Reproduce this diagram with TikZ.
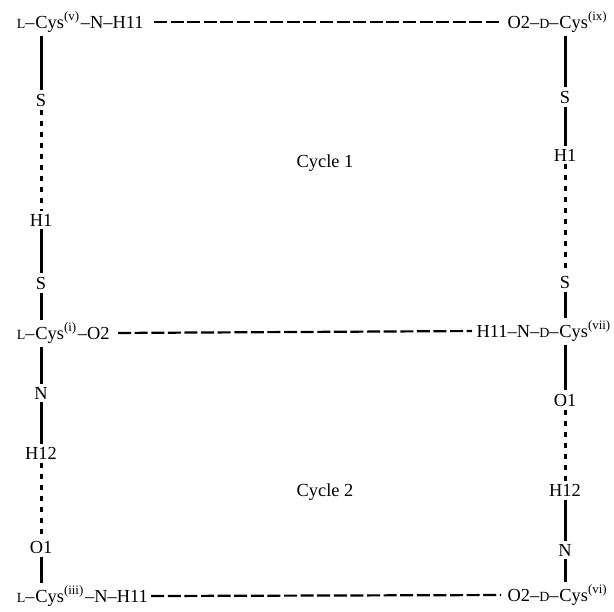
\documentclass[tikz,border=0pt]{standalone}
\usepackage{fontspec}
\setmainfont{Liberation Serif}
\usetikzlibrary{positioning}
\newcommand{\smcap}[1]{{\fontsize{7}{8}\selectfont #1}}
\tikzset{
    atom/.style={inner sep=1.5pt,font=\fontsize{9.2}{10}\selectfont},
    res/.style={inner sep=0pt,font=\fontsize{9.2}{10}\selectfont},
    bond/.style={draw,line width=1.5pt},
    hbond/.style={draw,line width=1.5pt,dash pattern=on 2.5pt off 3pt},
    contact/.style={draw,line width=1.1pt,dash pattern=on 6.5pt off 1.8pt}
}

\begin{document}
\begin{tikzpicture}[x=0.5pt,y=-0.5pt]
\useasboundingbox (0,0) rectangle (614,611);

% Residues
\node[res,anchor=base west] (cysV) at (35,28) {Cys\textsuperscript{(v)}};
\node[res,anchor=base east] (lV) at (cysV.base west) {\smcap{L}--};
\node[res,anchor=base west] (nV) at (cysV.base east) {--N--H11};

\node[res,anchor=base west] (cysIX) at (559,28) {Cys\textsuperscript{(ix)}};
\node[res,anchor=base east] (oIX) at (cysIX.base west) {O2--\smcap{D}--};

\node[res,anchor=base west] (cysI) at (35,339) {Cys\textsuperscript{(i)}};
\node[res,anchor=base east] (lI) at (cysI.base west) {\smcap{L}--};
\node[res,anchor=base west] (oI) at (cysI.base east) {--O2};

\node[res,anchor=base west] (cysVII) at (559,337) {Cys\textsuperscript{(vii)}};
\node[res,anchor=base east] (nVII) at (cysVII.base west) {H11--N--\smcap{D}--};

\node[res,anchor=base west] (cysIII) at (35,602) {Cys\textsuperscript{(iii)}};
\node[res,anchor=base east] (lIII) at (cysIII.base west) {\smcap{L}--};
\node[res,anchor=base west] (nIII) at (cysIII.base east) {--N--H11};

\node[res,anchor=base west] (cysVI) at (559,601) {Cys\textsuperscript{(vi)}};
\node[res,anchor=base east] (oVI) at (cysVI.base west) {O2--\smcap{D}--};

% Atoms
\node[atom] (sv) at (41,100) {S};
\node[atom] (hl1) at (41,220) {H1};
\node[atom] (si) at (41,283) {S};
\node[atom] (ni) at (41,393) {N};
\node[atom] (hl12) at (41,453) {H12};
\node[atom] (oiii) at (41,547) {O1};

\node[atom] (six) at (565,97) {S};
\node[atom] (hr1) at (565,155) {H1};
\node[atom] (svii) at (565,282) {S};
\node[atom] (ovii) at (565,400) {O1};
\node[atom] (hr12) at (565,490) {H12};
\node[atom] (nvi) at (565,550) {N};

% Labels
\node[res] (c1) at (325,163) {Cycle 1};
\node[res] (c2) at (325,492) {Cycle 2};

% Bonds, left
\draw[bond,shorten <=2pt] (cysV.south -| sv) -- (sv);
\draw[hbond] (sv) -- (hl1);
\draw[bond] (hl1) -- (si);
\draw[bond,shorten >=1pt] (si) -- (cysI.north -| si);
\draw[bond,shorten <=2pt] (cysI.south -| ni) -- (ni);
\draw[bond] (ni) -- (hl12);
\draw[hbond] (hl12) -- (oiii);
\draw[bond,shorten >=1pt] (oiii) -- (cysIII.north -| oiii);

% Bonds, right
\draw[bond,shorten <=2pt] (cysIX.south -| six) -- (six);
\draw[bond] (six) -- (hr1);
\draw[hbond] (hr1) -- (svii);
\draw[bond,shorten >=1pt] (svii) -- (cysVII.north -| svii);
\draw[bond,shorten <=2pt] (cysVII.south -| ovii) -- (ovii);
\draw[hbond] (ovii) -- (hr12);
\draw[bond] (hr12) -- (nvi);
\draw[bond,shorten >=1pt] (nvi) -- (cysVI.north -| nvi);

% Contacts
\draw[contact,shorten <=5pt,shorten >=4pt] ([yshift=3pt]nV.base east) -- ([yshift=3pt]oIX.base west);
\draw[contact,shorten <=4pt,shorten >=2pt] ([yshift=3pt]oI.base east) -- ([yshift=3pt]nVII.base west);
\draw[contact,shorten <=1.5pt,shorten >=3pt] ([yshift=3pt]nIII.base east) -- ([yshift=3pt]oVI.base west);

\end{tikzpicture}
\end{document}
